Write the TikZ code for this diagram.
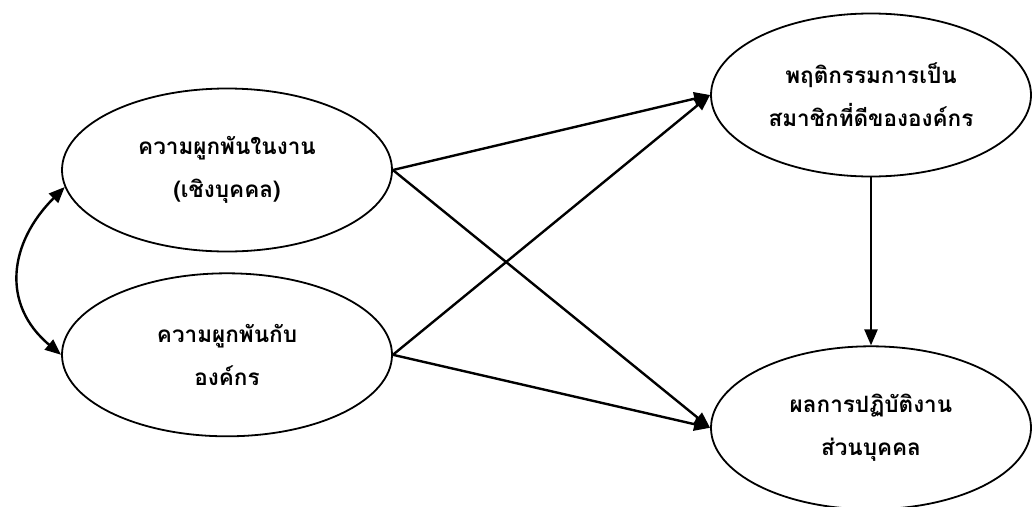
\documentclass[tikz,border=0pt]{standalone}
\usepackage{fontspec}
\usepackage{tikz}
\usetikzlibrary{positioning}
\usetikzlibrary{arrows.meta}
\usetikzlibrary{shapes.geometric}
\newfontfamily\thaifont[Script=Thai]{Loma}
\tikzset {
  node distance={20pt},
  % latent variables
  main/.style = {draw, ellipse, line width=1.8pt, inner sep=0pt,
    minimum width=330pt, minimum height=163pt, align=center,
    font={\thaifont\bfseries\fontsize{22.5pt}{43pt}\selectfont}},
  % causal paths
  >={Triangle[length=16pt, width=13pt]},
  path/.style={line width=2.4pt, ->},
}

\begin{document}
\begin{tikzpicture}[x=1pt, y=-1pt]
        \useasboundingbox (0,0) rectangle (1032,506);

        \node[main] (1) at (227,170) {ความผูกพันในงาน\\(เชิงบุคคล)};
        \node[main] (2) [below=of 1] {ความผูกพันกับ\\องค์กร};
        \node[main, minimum width=320pt] (3) at (871,95) {พฤติกรรมการเป็น\\สมาชิกที่ดีขององค์กร};
        \node[main, minimum width=320pt] (4) [below=168pt of 3] {ผลการปฏิบัติงาน\\ส่วนบุคคล};

        \draw [path] (1.east) -- (3.west);
        \draw [path] (1.east) -- (4.west);
        \draw [path] (2.east) -- (3.west);
        \draw [path] (2.east) -- (4.west);
        \draw [path] (3) -- (4);
        \draw [path, <->] (1.186) to[out=225, in=140, looseness=1.2] (2.west);
      \end{tikzpicture}
\end{document}
